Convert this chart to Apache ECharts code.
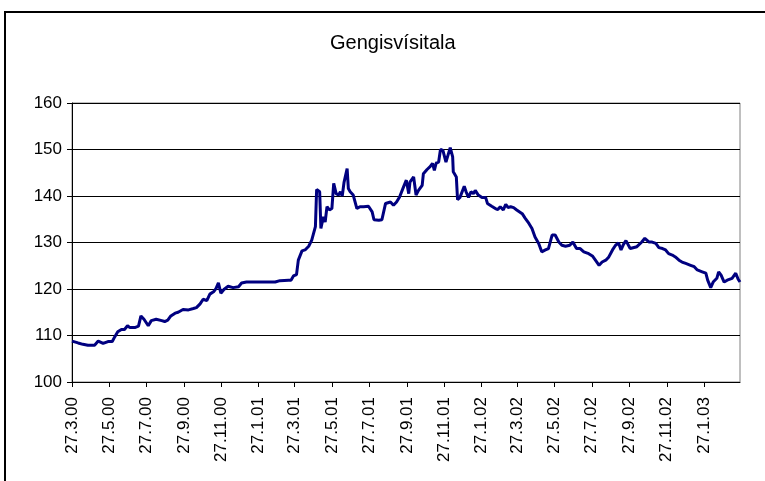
<!DOCTYPE html>
<html>
<head>
<meta charset="utf-8">
<script src="https://cdn.jsdelivr.net/npm/echarts@6/dist/echarts.min.js"></script>
<style>
  html, body { margin: 0; padding: 0; background: #fff; }
  #main { width: 765px; height: 481px; }
</style>
</head>
<body>
<div id="main"></div>
<script>
// dagsetningar og gildi lesin af myndinni
var dates = [
  '2000-03-27', '2000-04-06', '2000-04-14', '2000-04-22', '2000-05-03', '2000-05-09', '2000-05-17', '2000-05-25',
  '2000-06-01', '2000-06-05', '2000-06-10', '2000-06-16', '2000-06-21', '2000-06-26', '2000-06-30', '2000-07-08',
  '2000-07-14', '2000-07-18', '2000-07-23', '2000-07-30', '2000-08-04', '2000-08-12', '2000-08-21', '2000-08-26',
  '2000-08-31', '2000-09-05', '2000-09-12', '2000-09-17', '2000-09-25', '2000-10-04', '2000-10-12', '2000-10-17',
  '2000-10-23', '2000-10-28', '2000-11-03', '2000-11-08', '2000-11-14', '2000-11-18', '2000-11-22', '2000-11-26',
  '2000-12-01', '2000-12-08', '2000-12-16', '2000-12-25', '2000-12-30', '2001-01-07', '2001-01-29', '2001-02-23',
  '2001-03-03', '2001-03-17', '2001-03-21', '2001-03-25', '2001-03-30', '2001-04-02', '2001-04-08', '2001-04-13',
  '2001-04-19', '2001-04-24', '2001-04-30', '2001-05-02', '2001-05-07', '2001-05-09', '2001-05-13', '2001-05-16',
  '2001-05-19', '2001-05-23', '2001-05-27', '2001-05-30', '2001-06-03', '2001-06-07', '2001-06-10', '2001-06-13',
  '2001-06-16', '2001-06-21', '2001-06-23', '2001-06-26', '2001-06-29', '2001-07-01', '2001-07-04', '2001-07-07',
  '2001-07-12', '2001-07-18', '2001-07-26', '2001-08-01', '2001-08-04', '2001-08-12', '2001-08-17', '2001-08-23',
  '2001-08-31', '2001-09-05', '2001-09-10', '2001-09-15', '2001-09-21', '2001-09-26', '2001-09-30', '2001-10-02',
  '2001-10-08', '2001-10-12', '2001-10-16', '2001-10-22', '2001-10-24', '2001-10-30', '2001-11-04', '2001-11-08',
  '2001-11-11', '2001-11-14', '2001-11-18', '2001-11-21', '2001-11-25', '2001-11-30', '2001-12-07', '2001-12-11',
  '2001-12-12', '2001-12-17', '2001-12-19', '2001-12-23', '2001-12-26', '2001-12-30', '2002-01-02', '2002-01-06',
  '2002-01-10', '2002-01-14', '2002-01-17', '2002-01-22', '2002-01-28', '2002-02-03', '2002-02-06', '2002-02-13',
  '2002-02-19', '2002-02-23', '2002-02-27', '2002-03-04', '2002-03-08', '2002-03-12', '2002-03-16', '2002-03-21',
  '2002-03-26', '2002-03-29', '2002-04-04', '2002-04-09', '2002-04-15', '2002-04-20', '2002-04-25', '2002-05-01',
  '2002-05-06', '2002-05-12', '2002-05-17', '2002-05-23', '2002-05-28', '2002-06-03', '2002-06-08', '2002-06-14',
  '2002-06-21', '2002-06-26', '2002-07-02', '2002-07-08', '2002-07-14', '2002-07-22', '2002-07-28', '2002-08-02',
  '2002-08-08', '2002-08-13', '2002-08-19', '2002-08-24', '2002-08-30', '2002-09-04', '2002-09-09', '2002-09-13',
  '2002-09-17', '2002-09-21', '2002-09-28', '2002-10-01', '2002-10-09', '2002-10-17', '2002-10-22', '2002-10-29',
  '2002-11-03', '2002-11-09', '2002-11-14', '2002-11-20', '2002-11-25', '2002-11-30', '2002-12-06', '2002-12-11',
  '2002-12-17', '2002-12-22', '2002-12-28', '2003-01-05', '2003-01-11', '2003-01-16', '2003-01-24', '2003-01-30',
  '2003-02-02', '2003-02-07', '2003-02-11', '2003-02-17', '2003-02-20', '2003-02-24', '2003-03-01', '2003-03-06',
  '2003-03-14', '2003-03-20', '2003-03-24', '2003-03-27'
];
var values = [
  108.8, 108.4, 108.1, 107.9, 107.9, 108.8, 108.3, 108.7,
  108.7, 109.7, 110.8, 111.3, 111.3, 112.1, 111.7, 111.7,
  112.0, 114.2, 113.5, 112.1, 113.2, 113.5, 113.2, 113.0,
  113.3, 114.2, 114.8, 115.0, 115.6, 115.5, 115.8, 116.0,
  116.8, 117.8, 117.5, 118.9, 119.4, 120.1, 121.3, 119.1,
  119.9, 120.6, 120.3, 120.5, 121.3, 121.5, 121.5, 121.5,
  121.8, 121.9, 121.9, 122.8, 123.1, 126.2, 128.2, 128.4,
  129.2, 130.5, 133.4, 141.4, 140.9, 133.0, 135.5, 134.4,
  137.7, 137.0, 137.3, 142.7, 140.5, 140.2, 140.9, 140.0,
  143.0, 145.9, 141.6, 140.9, 141.2, 140.2, 139.8, 137.3,
  137.7, 137.7, 137.8, 136.6, 134.9, 134.8, 134.9, 138.4,
  138.7, 138.0, 138.7, 139.8, 141.8, 143.4, 140.5, 143.0,
  144.1, 140.2, 141.2, 142.3, 144.8, 145.7, 146.3, 147.0,
  145.5, 147.1, 147.3, 150.0, 149.8, 147.3, 150.4, 148.4,
  145.2, 144.1, 139.2, 139.7, 139.5, 142.1, 140.9, 139.7,
  140.9, 140.5, 141.2, 140.2, 139.7, 139.7, 138.4, 137.8,
  137.3, 137.1, 137.7, 137.0, 138.2, 137.5, 137.7, 137.5,
  137.0, 136.6, 136.2, 135.2, 134.1, 133.0, 131.2, 129.8,
  128.0, 128.4, 128.7, 131.6, 131.6, 130.1, 129.4, 129.2,
  129.4, 130.1, 128.7, 128.7, 128.0, 127.6, 127.1, 126.2,
  125.1, 125.8, 126.2, 126.9, 128.4, 129.4, 129.9, 128.4,
  129.6, 130.4, 128.7, 128.4, 129.1, 130.1, 130.9, 130.1,
  130.1, 129.8, 128.9, 128.7, 128.4, 127.6, 127.3, 126.9,
  126.2, 125.8, 125.5, 125.1, 124.8, 124.1, 123.7, 123.4,
  121.9, 120.3, 121.5, 122.3, 123.7, 123.0, 121.5, 121.9,
  122.3, 123.4, 122.1, 121.5
];
var xTickLabels = ['27.3.00', '27.5.00', '27.7.00', '27.9.00', '27.11.00', '27.1.01', '27.3.01', '27.5.01',
  '27.7.01', '27.9.01', '27.11.01', '27.1.02', '27.3.02', '27.5.02', '27.7.02', '27.9.02', '27.11.02', '27.1.03'];
var yTicks = [100, 110, 120, 130, 140, 150, 160];

var DAY = 86400000;
var start = Date.UTC(2000, 2, 27);

function dayOf(str) {
  var p = str.split('-');
  return Math.round((Date.UTC(+p[0], +p[1] - 1, +p[2]) - start) / DAY);
}
function dayOfLabel(lbl) {
  var p = lbl.split('.');
  return Math.round((Date.UTC(2000 + +p[2], +p[1] - 1, +p[0]) - start) / DAY);
}
function labelOf(day) {
  var d = new Date(start + day * DAY);
  var yy = String(d.getUTCFullYear() % 100);
  if (yy.length < 2) yy = '0' + yy;
  return d.getUTCDate() + '.' + (d.getUTCMonth() + 1) + '.' + yy;
}

var tickDays = xTickLabels.map(dayOfLabel);
var seriesData = dates.map(function (d, i) { return [dayOf(d), values[i]]; });

var chart = echarts.init(document.getElementById('main'), null, { renderer: 'canvas' });
var font = 'Liberation Sans, Arial, sans-serif';

var option = {
  backgroundColor: '#fff',
  animation: false,
  title: {
    text: 'Gengisvísitala',
    left: 325,
    top: 28,
    textStyle: { fontFamily: font, fontSize: 20, fontWeight: 'normal', color: '#000' }
  },
  graphic: [{
    type: 'rect',
    shape: { x: 5, y: 12, width: 800, height: 520 },
    style: { fill: 'none', stroke: '#000', lineWidth: 2 },
    silent: true
  }],
  grid: {
    left: 72, right: 25, top: 103, bottom: 99,
    show: true, borderColor: '#808080', borderWidth: 1, backgroundColor: '#fff'
  },
  xAxis: {
    type: 'value',
    min: 0,
    max: dayOf(dates[dates.length - 1]),
    axisLine: { show: true, onZero: false, lineStyle: { color: '#000', width: 1 } },
    axisTick: { show: true, inside: false, length: 5, customValues: tickDays, lineStyle: { color: '#000' } },
    axisLabel: {
      customValues: tickDays,
      rotate: 90,
      margin: 15,
      fontFamily: font,
      fontSize: 17,
      color: '#000',
      formatter: function (v) { return labelOf(v); }
    },
    splitLine: { show: false }
  },
  yAxis: {
    type: 'value',
    min: yTicks[0],
    max: yTicks[yTicks.length - 1],
    interval: 10,
    axisLine: { show: true, lineStyle: { color: '#000', width: 1 } },
    axisTick: { show: true, inside: false, length: 5, lineStyle: { color: '#000' } },
    axisLabel: { margin: 10, fontFamily: font, fontSize: 17, color: '#000' },
    splitLine: { show: true, lineStyle: { color: '#000', width: 1 } }
  },
  series: [{
    name: 'Gengisvísitala',
    type: 'line',
    data: seriesData,
    showSymbol: false,
    smooth: false,
    lineStyle: { color: '#000080', width: 3 },
    itemStyle: { color: '#000080' }
  }]
};
chart.setOption(option);
</script>
</body>
</html>
